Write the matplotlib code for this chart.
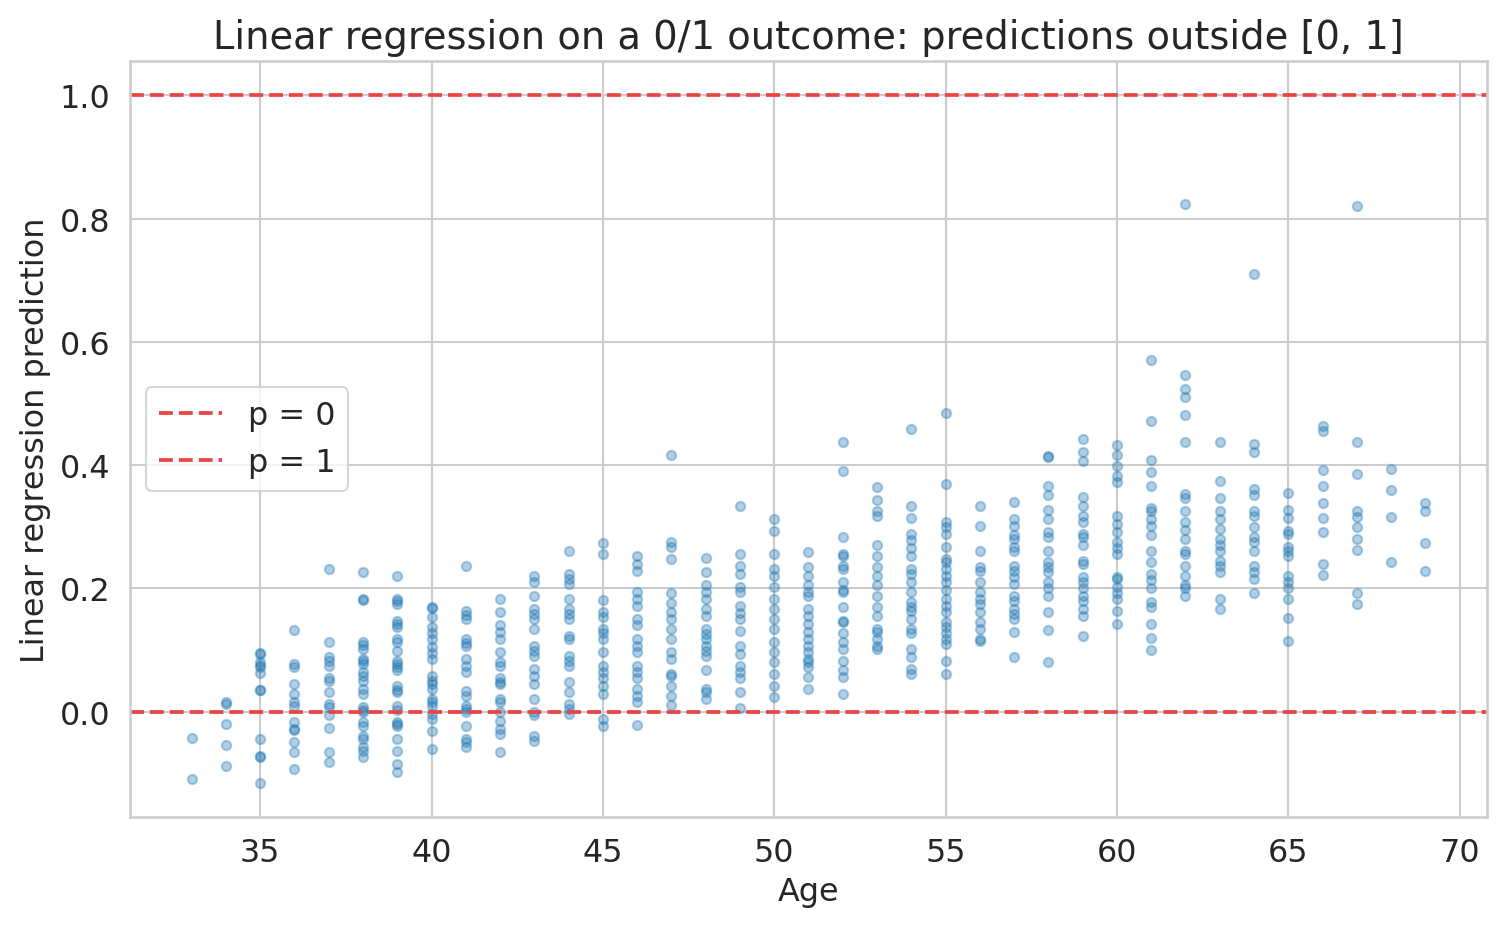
import numpy as np
import matplotlib
matplotlib.use("Agg")
import matplotlib.pyplot as plt
import seaborn as sns

# ages present in the sample
ages = [33, 34, 35, 36, 37, 38, 39, 40, 41, 42, 43, 44, 45, 46, 47, 48, 49, 50, 51,
        52, 53, 54, 55, 56, 57, 58, 59, 60, 61, 62, 63, 64, 65, 66, 67, 68, 69]

preds = [
    [-0.042, -0.109],
    [0.016, 0.012, -0.020, -0.054, -0.088],
    [0.096, 0.094, 0.081, 0.076, 0.073, 0.063, 0.036, 0.036, -0.044, -0.071, -0.073, -0.115],
    [0.132, 0.078, 0.073, 0.045, 0.029, 0.015, 0.010, -0.016, -0.028, -0.030, -0.049, -0.065, -0.093],
    [0.232, 0.113, 0.089, 0.083, 0.075, 0.054, 0.050, 0.032, 0.013, 0.008, -0.006, -0.026, -0.065, -0.081],
    [0.227, 0.183, 0.182, 0.113, 0.108, 0.102, 0.086, 0.082, 0.078, 0.065, 0.058, 0.050, 0.037, 0.029,
     0.008, 0.003, 0.0, -0.016, -0.023, -0.039, -0.044, -0.057, -0.063, -0.073],
    [0.221, 0.183, 0.179, 0.175, 0.148, 0.143, 0.138, 0.118, 0.113, 0.099, 0.083, 0.077, 0.072, 0.067,
     0.041, 0.036, 0.032, 0.010, 0.003, -0.016, -0.020, -0.023, -0.044, -0.063, -0.084, -0.097],
    [0.170, 0.168, 0.154, 0.138, 0.128, 0.118, 0.105, 0.096, 0.086, 0.058, 0.050, 0.045, 0.037, 0.021,
     0.015, 0.010, -0.003, -0.011, -0.032, -0.060],
    [0.237, 0.164, 0.157, 0.151, 0.118, 0.112, 0.107, 0.086, 0.075, 0.065, 0.034, 0.026, 0.010, 0.005,
     0.0, -0.023, -0.044, -0.049, -0.057],
    [0.183, 0.162, 0.140, 0.129, 0.118, 0.097, 0.081, 0.075, 0.054, 0.049, 0.045, 0.021, 0.016, 0.0,
     -0.015, -0.028, -0.036, -0.065],
    [0.221, 0.211, 0.188, 0.167, 0.159, 0.151, 0.135, 0.107, 0.099, 0.091, 0.070, 0.058, 0.045, 0.021,
     0.0, -0.006, -0.039, -0.047],
    [0.260, 0.224, 0.216, 0.208, 0.183, 0.167, 0.159, 0.151, 0.123, 0.118, 0.091, 0.083, 0.075, 0.049,
     0.032, 0.013, 0.005, -0.003],
    [0.273, 0.256, 0.181, 0.162, 0.154, 0.135, 0.127, 0.118, 0.097, 0.075, 0.065, 0.054, 0.042, 0.029,
     -0.011, -0.023],
    [0.252, 0.240, 0.229, 0.195, 0.183, 0.172, 0.151, 0.140, 0.118, 0.107, 0.097, 0.075, 0.065, 0.054,
     0.037, 0.026, 0.016, -0.021],
    [0.417, 0.276, 0.268, 0.248, 0.192, 0.177, 0.162, 0.151, 0.135, 0.118, 0.097, 0.086, 0.062, 0.058,
     0.041, 0.026, 0.011],
    [0.250, 0.227, 0.205, 0.194, 0.183, 0.167, 0.156, 0.135, 0.126, 0.118, 0.107, 0.099, 0.091, 0.067,
     0.037, 0.032, 0.021],
    [0.333, 0.256, 0.237, 0.224, 0.203, 0.195, 0.172, 0.161, 0.151, 0.131, 0.107, 0.094, 0.075, 0.065,
     0.054, 0.032, 0.006],
    [0.313, 0.294, 0.256, 0.232, 0.221, 0.203, 0.183, 0.167, 0.151, 0.135, 0.113, 0.097, 0.081, 0.062,
     0.042, 0.024],
    [0.259, 0.235, 0.221, 0.205, 0.195, 0.187, 0.167, 0.156, 0.143, 0.130, 0.118, 0.107, 0.097, 0.086,
     0.081, 0.073, 0.057, 0.037],
    [0.438, 0.391, 0.284, 0.256, 0.253, 0.237, 0.232, 0.211, 0.197, 0.195, 0.170, 0.148, 0.146, 0.127,
     0.113, 0.102, 0.083, 0.067, 0.057, 0.028],
    [0.365, 0.343, 0.325, 0.318, 0.270, 0.253, 0.235, 0.221, 0.205, 0.188, 0.170, 0.156, 0.135, 0.130,
     0.118, 0.107, 0.102],
    [0.459, 0.333, 0.315, 0.289, 0.278, 0.265, 0.253, 0.232, 0.224, 0.211, 0.195, 0.178, 0.170, 0.164,
     0.151, 0.135, 0.127, 0.102, 0.089, 0.070, 0.062],
    [0.484, 0.370, 0.308, 0.300, 0.289, 0.268, 0.248, 0.243, 0.232, 0.221, 0.211, 0.197, 0.183, 0.172,
     0.162, 0.146, 0.137, 0.127, 0.118, 0.110, 0.083, 0.062],
    [0.334, 0.302, 0.261, 0.235, 0.229, 0.211, 0.195, 0.183, 0.175, 0.162, 0.146, 0.135, 0.118, 0.115],
    [0.341, 0.313, 0.302, 0.286, 0.281, 0.268, 0.260, 0.237, 0.229, 0.219, 0.208, 0.187, 0.180, 0.167,
     0.159, 0.151, 0.130, 0.089],
    [0.415, 0.413, 0.367, 0.351, 0.328, 0.313, 0.292, 0.284, 0.261, 0.243, 0.235, 0.227, 0.211, 0.200,
     0.187, 0.162, 0.133, 0.080],
    [0.443, 0.422, 0.407, 0.349, 0.333, 0.318, 0.308, 0.289, 0.284, 0.270, 0.245, 0.240, 0.219, 0.210,
     0.200, 0.188, 0.180, 0.167, 0.156, 0.123],
    [0.432, 0.417, 0.398, 0.383, 0.373, 0.317, 0.305, 0.292, 0.276, 0.265, 0.256, 0.219, 0.216, 0.203,
     0.193, 0.183, 0.164, 0.143],
    [0.570, 0.471, 0.409, 0.389, 0.367, 0.330, 0.325, 0.313, 0.302, 0.286, 0.260, 0.243, 0.224, 0.213,
     0.200, 0.178, 0.170, 0.143, 0.120, 0.100],
    [0.823, 0.546, 0.524, 0.511, 0.481, 0.437, 0.354, 0.346, 0.326, 0.308, 0.295, 0.281, 0.260, 0.256,
     0.237, 0.221, 0.205, 0.200, 0.187],
    [0.438, 0.375, 0.347, 0.325, 0.313, 0.297, 0.281, 0.270, 0.260, 0.245, 0.236, 0.227, 0.183, 0.167],
    [0.711, 0.435, 0.422, 0.362, 0.351, 0.325, 0.317, 0.300, 0.284, 0.276, 0.260, 0.237, 0.226, 0.216, 0.192],
    [0.355, 0.328, 0.315, 0.294, 0.289, 0.268, 0.260, 0.252, 0.221, 0.210, 0.200, 0.183, 0.152, 0.115],
    [0.464, 0.455, 0.393, 0.367, 0.338, 0.315, 0.291, 0.240, 0.222],
    [0.821, 0.438, 0.385, 0.326, 0.316, 0.300, 0.281, 0.263, 0.192, 0.175],
    [0.394, 0.359, 0.316, 0.243],
    [0.339, 0.326, 0.274, 0.229],
]

title = "Linear regression on a 0/1 outcome: predictions outside [0, 1]"

sns.set_theme(style="whitegrid")

# flatten to point arrays
x = np.concatenate([[a] * len(p) for a, p in zip(ages, preds)])
y = np.concatenate(preds)

fig = plt.figure(figsize=(10.04, 6.193), dpi=150)
ax = fig.add_axes([0.0863, 0.1195, 0.9011, 0.8138])

ax.scatter(x, y, s=20, alpha=0.35, color="#1f77b4")
ax.axhline(0, color="#ea4545", linestyle="--", linewidth=1.8, label="p = 0")
ax.axhline(1, color="#ea4545", linestyle="--", linewidth=1.8, label="p = 1")

ax.set_title(title, fontsize=18.5)
ax.set_xlabel("Age", fontsize=15.3)
ax.set_ylabel("Linear regression prediction", fontsize=15.3)
ax.tick_params(labelsize=15.3)
ax.legend(loc="center left", fontsize=15.3)

plt.savefig("out.png", dpi=150)
